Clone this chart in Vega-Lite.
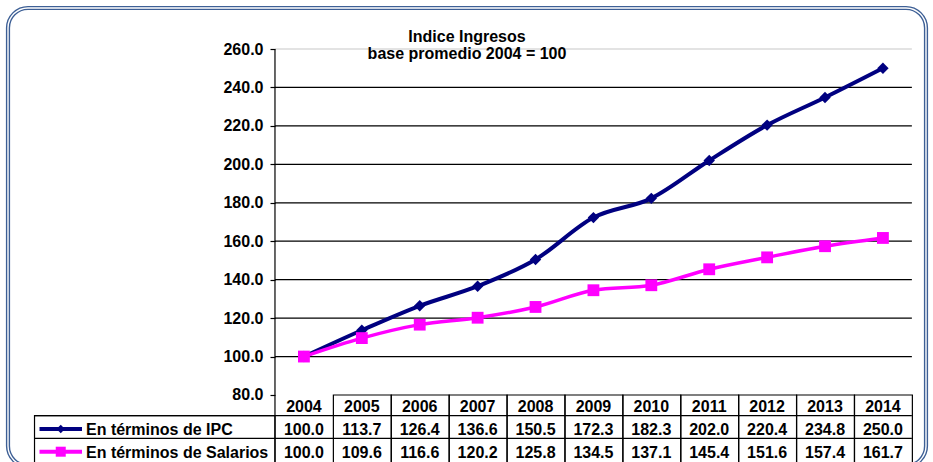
{
  "$schema": "https://vega.github.io/schema/vega-lite/v6.json",
  "width": 918,
  "height": 458,
  "autosize": {"type": "none"},
  "padding": {"left": 8, "top": 8, "right": 7, "bottom": -4},
  "background": "white",
  "title": {
    "text": ["Indice Ingresos", "base promedio 2004  = 100"],
    "anchor": "middle",
    "frame": "group",
    "font": "Liberation Sans",
    "fontSize": 16,
    "fontWeight": "bold",
    "color": "black",
    "lineHeight": 17,
    "offset": -55
  },
  "datasets": {
    "ingresos": [
      {"year": 2004, "ipc": 100.0, "salarios": 100.0},
      {"year": 2005, "ipc": 113.7, "salarios": 109.6},
      {"year": 2006, "ipc": 126.4, "salarios": 116.6},
      {"year": 2007, "ipc": 136.6, "salarios": 120.2},
      {"year": 2008, "ipc": 150.5, "salarios": 125.8},
      {"year": 2009, "ipc": 172.3, "salarios": 134.5},
      {"year": 2010, "ipc": 182.3, "salarios": 137.1},
      {"year": 2011, "ipc": 202.0, "salarios": 145.4},
      {"year": 2012, "ipc": 220.4, "salarios": 151.6},
      {"year": 2013, "ipc": 234.8, "salarios": 157.4},
      {"year": 2014, "ipc": 250.0, "salarios": 161.7}
    ],
    "grid": [
      {"v": 100}, {"v": 120}, {"v": 140}, {"v": 160}, {"v": 180},
      {"v": 200}, {"v": 220}, {"v": 240}, {"v": 260}
    ]
  },
  "data": {"name": "ingresos"},
  "layer": [
    {
      "data": {"name": "grid"},
      "mark": {"type": "rule", "strokeWidth": 1.2},
      "encoding": {
        "y": {
          "field": "v", "type": "quantitative",
          "scale": {"domain": [43.06, 281.33], "nice": false, "zero": false},
          "axis": {
            "values": [80, 100, 120, 140, 160, 180, 200, 220, 240, 260],
            "format": ".1f",
            "offset": -267,
            "domain": false,
            "grid": false,
            "ticks": true,
            "tickSize": 5,
            "tickColor": "black",
            "tickWidth": 1.2,
            "labelFont": "Liberation Sans",
            "labelFontWeight": "bold",
            "labelFontSize": 16,
            "labelColor": "black",
            "labelPadding": 7,
            "labelOverlap": false,
            "title": null
          }
        },
        "x": {
          "datum": 2003.5, "type": "quantitative",
          "scale": {"domain": [1998.889, 2014.744], "nice": false, "zero": false},
          "axis": null
        },
        "x2": {"datum": 2014.5},
        "color": {"condition": {"test": "datum.v == 260", "value": "#c8c8c8"}, "value": "black"}
      }
    },
    {
      "data": {"values": [{}]},
      "mark": {"type": "rule", "color": "black", "strokeWidth": 1.2},
      "encoding": {
        "x": {"datum": 2003.5, "type": "quantitative"},
        "y": {"datum": 260, "type": "quantitative"},
        "y2": {"datum": 44}
      }
    },
    {
      "mark": {"type": "rect", "fillOpacity": 0, "stroke": "black", "strokeWidth": 1.2},
      "encoding": {
        "x": {"field": "year", "type": "quantitative", "bin": {"step": 1, "anchor": 2003.5}},
        "y": {"datum": 80, "type": "quantitative"},
        "y2": {"datum": 44}
      }
    },
    {
      "data": {"values": [{}]},
      "mark": {"type": "rect", "fillOpacity": 0, "stroke": "black", "strokeWidth": 1.2},
      "encoding": {
        "x": {"datum": 1999.347, "type": "quantitative"},
        "x2": {"datum": 2003.5},
        "y": {"datum": 69.23, "type": "quantitative"},
        "y2": {"datum": 44}
      }
    },
    {
      "data": {"values": [{}]},
      "mark": {"type": "rule", "color": "black", "strokeWidth": 1.2},
      "encoding": {
        "x": {"datum": 1999.347, "type": "quantitative"},
        "x2": {"datum": 2014.5},
        "y": {"datum": 69.23, "type": "quantitative"}
      }
    },
    {
      "data": {"values": [{}]},
      "mark": {"type": "rule", "color": "black", "strokeWidth": 1.2},
      "encoding": {
        "x": {"datum": 1999.347, "type": "quantitative"},
        "x2": {"datum": 2014.5},
        "y": {"datum": 57.47, "type": "quantitative"}
      }
    },
    {
      "mark": {"type": "line", "color": "#000080", "strokeWidth": 4, "interpolate": "monotone"},
      "encoding": {
        "x": {"field": "year", "type": "quantitative"},
        "y": {"field": "ipc", "type": "quantitative"}
      }
    },
    {
      "mark": {"type": "point", "shape": "diamond", "filled": true, "size": 130, "color": "#000080", "opacity": 1},
      "encoding": {
        "x": {"field": "year", "type": "quantitative"},
        "y": {"field": "ipc", "type": "quantitative"}
      }
    },
    {
      "mark": {"type": "line", "color": "#ff00ff", "strokeWidth": 3.5, "interpolate": "monotone"},
      "encoding": {
        "x": {"field": "year", "type": "quantitative"},
        "y": {"field": "salarios", "type": "quantitative"}
      }
    },
    {
      "mark": {"type": "point", "shape": "square", "filled": true, "size": 140, "color": "#ff00ff", "opacity": 1},
      "encoding": {
        "x": {"field": "year", "type": "quantitative"},
        "y": {"field": "salarios", "type": "quantitative"}
      }
    },
    {
      "mark": {"type": "text", "font": "Liberation Sans", "fontSize": 16, "fontWeight": "bold", "color": "black", "align": "center", "baseline": "middle"},
      "encoding": {
        "x": {"field": "year", "type": "quantitative"},
        "y": {"datum": 73.76, "type": "quantitative"},
        "text": {"field": "year", "type": "nominal"}
      }
    },
    {
      "mark": {"type": "text", "font": "Liberation Sans", "fontSize": 16, "fontWeight": "bold", "color": "black", "align": "center", "baseline": "middle"},
      "encoding": {
        "x": {"field": "year", "type": "quantitative"},
        "y": {"datum": 61.53, "type": "quantitative"},
        "text": {"field": "ipc", "type": "quantitative", "format": ".1f"}
      }
    },
    {
      "mark": {"type": "text", "font": "Liberation Sans", "fontSize": 16, "fontWeight": "bold", "color": "black", "align": "center", "baseline": "middle"},
      "encoding": {
        "x": {"field": "year", "type": "quantitative"},
        "y": {"datum": 49.82, "type": "quantitative"},
        "text": {"field": "salarios", "type": "quantitative", "format": ".1f"}
      }
    },
    {
      "data": {"values": [{}]},
      "mark": {"type": "rule", "color": "#000080", "strokeWidth": 4},
      "encoding": {
        "x": {"datum": 1999.433, "type": "quantitative"},
        "x2": {"datum": 2000.167},
        "y": {"datum": 62.3, "type": "quantitative"}
      }
    },
    {
      "data": {"values": [{}]},
      "mark": {"type": "point", "shape": "diamond", "filled": true, "size": 70, "color": "#000080", "opacity": 1},
      "encoding": {
        "x": {"datum": 1999.8, "type": "quantitative"},
        "y": {"datum": 62.3, "type": "quantitative"}
      }
    },
    {
      "data": {"values": [{}]},
      "mark": {"type": "rule", "color": "#ff00ff", "strokeWidth": 4},
      "encoding": {
        "x": {"datum": 1999.433, "type": "quantitative"},
        "x2": {"datum": 2000.167},
        "y": {"datum": 50.5, "type": "quantitative"}
      }
    },
    {
      "data": {"values": [{}]},
      "mark": {"type": "point", "shape": "square", "filled": true, "size": 100, "color": "#ff00ff", "opacity": 1},
      "encoding": {
        "x": {"datum": 1999.8, "type": "quantitative"},
        "y": {"datum": 50.5, "type": "quantitative"}
      }
    },
    {
      "data": {"values": [{}]},
      "mark": {"type": "text", "font": "Liberation Sans", "fontSize": 16, "fontWeight": "bold", "color": "black", "align": "left", "baseline": "middle"},
      "encoding": {
        "x": {"datum": 2000.236, "type": "quantitative"},
        "y": {"datum": 61.53, "type": "quantitative"},
        "text": {"value": "En términos de IPC"}
      }
    },
    {
      "data": {"values": [{}]},
      "mark": {"type": "text", "font": "Liberation Sans", "fontSize": 16, "fontWeight": "bold", "color": "black", "align": "left", "baseline": "middle"},
      "encoding": {
        "x": {"datum": 2000.236, "type": "quantitative"},
        "y": {"datum": 49.82, "type": "quantitative"},
        "text": {"value": "En términos de Salarios"}
      }
    },
    {
      "data": {"values": [{}]},
      "mark": {"type": "rect", "fillOpacity": 0, "stroke": "white", "strokeWidth": 1.4, "cornerRadius": 20},
      "encoding": {
        "x": {"datum": 1998.889, "type": "quantitative"},
        "x2": {"datum": 2014.744},
        "y": {"datum": 281.33, "type": "quantitative"},
        "y2": {"datum": 43.06}
      }
    }
  ],
  "config": {
    "font": "Liberation Sans",
    "view": {"stroke": "#3d5f95", "strokeWidth": 4.2, "cornerRadius": 20}
  }
}
